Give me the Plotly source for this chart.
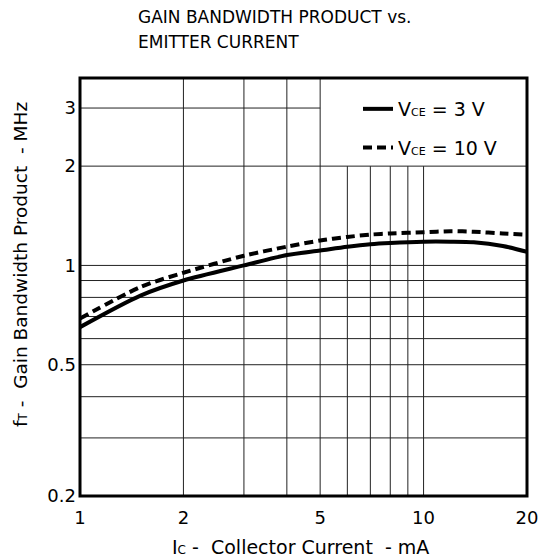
import numpy as np
import plotly.graph_objects as go

# Data
ic_ma = [1, 1.5, 2, 3, 4, 5, 6, 7, 8, 10, 12, 14, 17, 20]
ft_vce3 = [0.65, 0.81, 0.90, 1.00, 1.075, 1.11, 1.14, 1.16, 1.17, 1.18, 1.18, 1.175, 1.145, 1.10]
ft_vce10 = [0.69, 0.86, 0.95, 1.07, 1.14, 1.19, 1.22, 1.24, 1.25, 1.26, 1.27, 1.265, 1.25, 1.24]

x_tickvals = [1, 2, 5, 10, 20]
x_ticktext = ["1", "2", "5", "10", "20"]
y_tickvals = [0.2, 0.5, 1, 2, 3]
y_ticktext = ["0.2", "0.5", "1", "2", "3"]

x_grid_full = [2, 3, 4, 5]
x_grid_low = [6, 7, 8, 9, 10]
y_grid_full = [0.3, 0.4, 0.5, 0.6, 0.7, 0.8, 0.9, 1, 2]
y_grid_part = [3]

X_MIN, X_MAX = 1, 20
Y_MIN, Y_MAX = 0.2, 3.7

FONT = "DejaVu Sans, Verdana, sans-serif"
NB = "\u00a0"

# page body has an 8px margin; figure sized to fit the 547x559 window
W, H = 539, 551
ML, MT = 72, 70
PLOT_W, PLOT_H = 447, 418
MR = W - ML - PLOT_W
MB = H - MT - PLOT_H

fig = go.Figure()
fig.add_trace(go.Scatter(
    x=ic_ma, y=ft_vce3, mode="lines", line_shape="spline",
    line=dict(color="black", width=4, smoothing=0.8),
    name="V<span style='font-size:11px'>CE</span> = 3 V", legendgroup="a",
))
fig.add_trace(go.Scatter(
    x=ic_ma, y=ft_vce10, mode="lines", line_shape="spline",
    line=dict(color="black", width=4, dash="9px,5px", smoothing=0.8),
    name="V<span style='font-size:11px'>CE</span> = 10 V", legendgroup="b",
))

shapes = []
grid_line = dict(color="#222222", width=1)
for xv in x_grid_full:
    shapes.append(dict(type="line", xref="x", yref="y", x0=xv, x1=xv, y0=Y_MIN, y1=Y_MAX,
                       line=grid_line, layer="below"))
for xv in x_grid_low:
    shapes.append(dict(type="line", xref="x", yref="y", x0=xv, x1=xv, y0=Y_MIN, y1=2,
                       line=grid_line, layer="below"))
for yv in y_grid_full:
    shapes.append(dict(type="line", xref="x", yref="y", x0=X_MIN, x1=X_MAX, y0=yv, y1=yv,
                       line=grid_line, layer="below"))
for yv in y_grid_part:
    shapes.append(dict(type="line", xref="x", yref="y", x0=X_MIN, x1=5, y0=yv, y1=yv,
                       line=grid_line, layer="below"))
shapes.append(dict(type="rect", xref="paper", yref="paper", x0=0, x1=1, y0=0, y1=1,
                   line=dict(color="black", width=3), layer="above"))

annotations = [
    dict(text="GAIN BANDWIDTH PRODUCT vs.", xref="paper", yref="paper",
         x=(136 - 80) / PLOT_W, y=1 + 61 / PLOT_H, xanchor="left", yanchor="middle",
         showarrow=False, font=dict(size=17, family=FONT, color="black")),
    dict(text="EMITTER CURRENT", xref="paper", yref="paper",
         x=(136 - 80) / PLOT_W, y=1 + 36 / PLOT_H, xanchor="left", yanchor="middle",
         showarrow=False, font=dict(size=17, family=FONT, color="black")),
    dict(text="I<span style='font-size:12px'>C</span> -" + NB * 2 + "Collector Current" + NB * 2 + "- mA",
         xref="paper", yref="paper", x=(300 - 80) / PLOT_W, y=-(547 - 496) / PLOT_H,
         xanchor="center", yanchor="middle", showarrow=False,
         font=dict(size=19, family=FONT, color="black")),
    dict(text="f<span style='font-size:12px'>T</span> -" + NB * 2 + "Gain Bandwidth Product" + NB * 2 + "- MHz",
         xref="paper", yref="paper", x=-(80 - 20) / PLOT_W, y=(496 - 265) / PLOT_H,
         xanchor="center", yanchor="middle", textangle=-90, showarrow=False,
         font=dict(size=18.5, family=FONT, color="black")),
]

fig.update_layout(
    width=W, height=H,
    margin=dict(l=ML, r=MR, t=MT, b=MB, autoexpand=False),
    paper_bgcolor="white", plot_bgcolor="white",
    font=dict(family=FONT, color="black", size=18),
    shapes=shapes, annotations=annotations,
    showlegend=True,
    legend=dict(x=(358 - 80) / PLOT_W, y=(496 - 90) / PLOT_H, xanchor="left", yanchor="top",
                bgcolor="rgba(0,0,0,0)", font=dict(size=19, family=FONT),
                traceorder="grouped", tracegroupgap=11, borderwidth=0),
)
fig.update_xaxes(
    type="log", range=[np.log10(X_MIN), np.log10(X_MAX)],
    tickvals=x_tickvals, ticktext=x_ticktext, ticks="", showgrid=False,
    zeroline=False, showline=False, tickfont=dict(size=18, family=FONT),
    ticklabelstandoff=9,
)
fig.update_yaxes(
    type="log", range=[np.log10(Y_MIN), np.log10(Y_MAX)],
    tickvals=y_tickvals, ticktext=y_ticktext, ticks="", showgrid=False,
    zeroline=False, showline=False, tickfont=dict(size=18, family=FONT),
    ticklabelstandoff=3,
)

fig.write_html("out.html")
